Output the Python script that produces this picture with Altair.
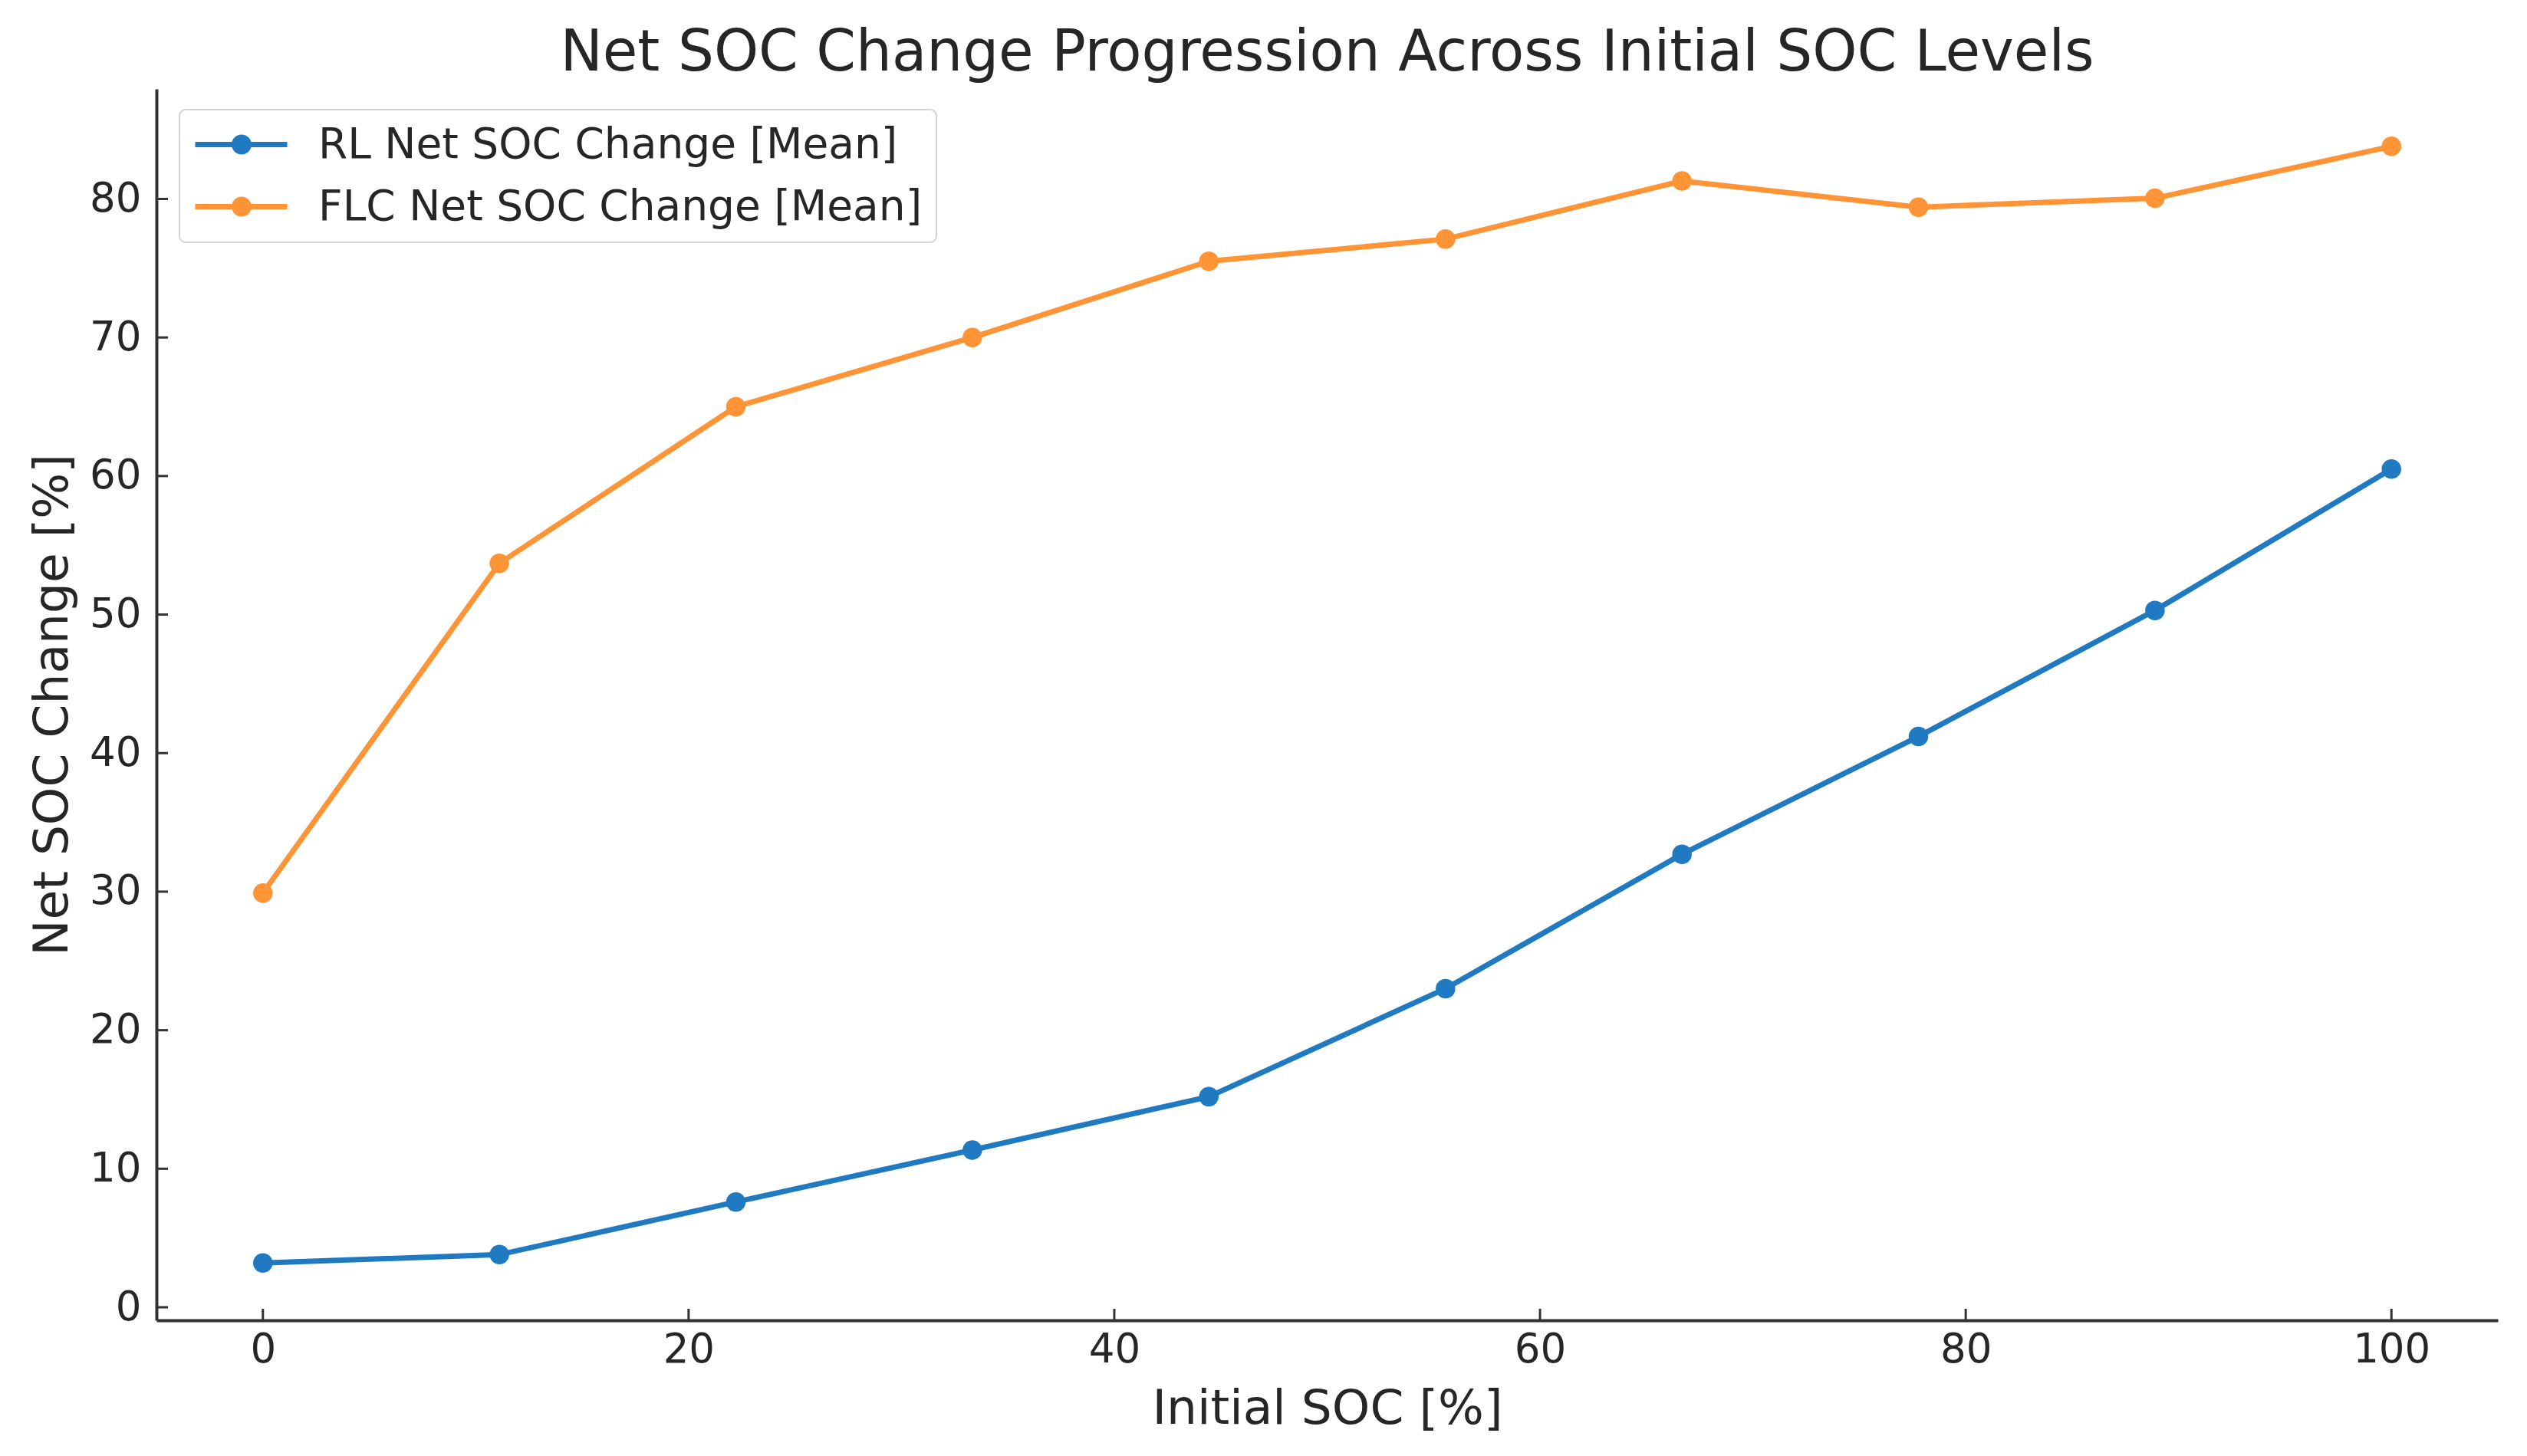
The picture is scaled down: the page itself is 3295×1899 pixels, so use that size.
import altair as alt
import pandas as pd

# ---- data ----
initial_soc = [0.0, 11.11, 22.22, 33.33, 44.44, 55.56, 66.67, 77.78, 88.89, 100.0]
rl_mean = [3.2, 3.8, 7.6, 11.35, 15.2, 23.0, 32.7, 41.2, 50.3, 60.5]
flc_mean = [29.9, 53.7, 65.0, 70.0, 75.5, 77.1, 81.3, 79.4, 80.05, 83.8]
series_names = ["RL Net SOC Change [Mean]", "FLC Net SOC Change [Mean]"]
series_colors = ["#1f7ac2", "#ff9436"]
x_ticks = [0, 20, 40, 60, 80, 100]
y_ticks = [0, 10, 20, 30, 40, 50, 60, 70, 80]

rows = []
for name, vals in zip(series_names, [rl_mean, flc_mean]):
    for x, y in zip(initial_soc, vals):
        rows.append({"soc": x, "change": y, "series": name})
df = pd.DataFrame(rows)
xt_df = pd.DataFrame({"soc": x_ticks})
yt_df = pd.DataFrame({"change": y_ticks})

W, H = 3053, 1606
FONT = "DejaVu Sans"
TXT = "#262626"
AX = "#333333"

xscale = alt.Scale(domain=[-5, 105], nice=False, zero=False)
yscale = alt.Scale(domain=[-0.94, 87.94], nice=False, zero=False)
cscale = alt.Scale(domain=series_names, range=series_colors)

# legend glyph: a short line with a dot in its middle (unit = symbol radius)
legend_path = ("M-1,-0.14L3.8,-0.14L3.8,0.14L-1,0.14Z "
               "M0.9,0A0.52,0.52 0 1,1 1.94,0A0.52,0.52 0 1,1 0.9,0Z")


def x_axis():
    return alt.Axis(values=x_ticks, grid=False, ticks=False, domainColor=AX, domainWidth=4,
                    labelFont=FONT, labelFontSize=53, labelColor=TXT, labelPadding=12,
                    title="Initial SOC [%]", titleFont=FONT, titleFontSize=63,
                    titleFontWeight="normal", titleColor=TXT, titleBaseline="alphabetic",
                    titleY=134)


def y_axis():
    return alt.Axis(values=y_ticks, grid=False, ticks=False, domainColor=AX, domainWidth=4,
                    labelFont=FONT, labelFontSize=53, labelColor=TXT, labelPadding=20,
                    title="Net SOC Change [%]", titleFont=FONT, titleFontSize=63,
                    titleFontWeight="normal", titleColor=TXT, titleBaseline="alphabetic",
                    titleX=-117)


points = alt.Chart(df).mark_point(filled=True, size=650, opacity=1).encode(
    x=alt.X("soc:Q", scale=xscale, axis=x_axis()),
    y=alt.Y("change:Q", scale=yscale, axis=y_axis()),
    color=alt.Color("series:N", scale=cscale, sort=series_names,
                    legend=alt.Legend(title=None, orient="none", legendX=30, legendY=27,
                                      direction="vertical", labelFont=FONT, labelFontSize=55,
                                      labelColor=TXT, labelLimit=2000, labelOffset=108,
                                      symbolType=legend_path, symbolSize=2500,
                                      symbolStrokeWidth=0, symbolOpacity=1,
                                      padding=18, rowPadding=25,
                                      strokeColor="#d3d3d3", fillColor="white",
                                      cornerRadius=8)),
)

lines = alt.Chart(df).mark_line(strokeWidth=7).encode(
    x=alt.X("soc:Q", scale=xscale, axis=x_axis()),
    y=alt.Y("change:Q", scale=yscale, axis=y_axis()),
    color=alt.Color("series:N", scale=cscale, sort=series_names, legend=None),
    detail="series:N",
)

# inward-pointing tick marks
xtick_rules = alt.Chart(xt_df).mark_rule(color=AX, strokeWidth=3).encode(
    x=alt.X("soc:Q", scale=xscale, axis=x_axis()),
    y=alt.value(H),
    y2=alt.value(H - 15),
)
ytick_rules = alt.Chart(yt_df).mark_rule(color=AX, strokeWidth=3).encode(
    y=alt.Y("change:Q", scale=yscale, axis=y_axis()),
    x=alt.value(0),
    x2=alt.value(15),
)

chart = alt.layer(points, lines, xtick_rules, ytick_rules).properties(
    width=W,
    height=H,
    title=alt.TitleParams("Net SOC Change Progression Across Initial SOC Levels",
                          font=FONT, fontSize=74, fontWeight="normal", color=TXT,
                          anchor="middle", baseline="alphabetic", offset=28, dy=78,
                          frame="group"),
    autosize=alt.AutoSizeParams(type="none"),
    padding={"left": 196, "top": 108, "right": 20, "bottom": 160},
).configure_view(strokeWidth=0).configure_legend(strokeWidth=2)

chart.save("out.html", embed_options={"renderer": "svg", "actions": False})
